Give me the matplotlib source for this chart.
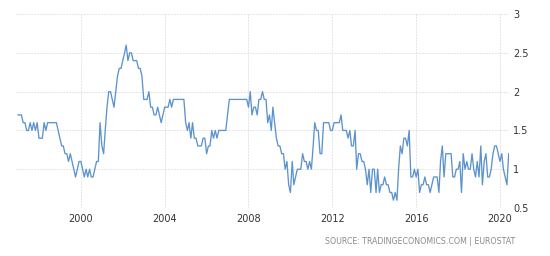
import matplotlib
matplotlib.use("Agg")
import matplotlib.pyplot as plt
import pandas as pd

# Monthly values, Jan 1997 .. Jun 2020
values_1997_2000 = [1.7, 1.7, 1.7, 1.6, 1.6, 1.5, 1.5, 1.6, 1.5, 1.6, 1.5, 1.6,
                    1.4, 1.4, 1.4, 1.6, 1.5, 1.6, 1.6, 1.6, 1.6, 1.6, 1.6, 1.5,
                    1.4, 1.3, 1.3, 1.2, 1.2, 1.1, 1.2, 1.1, 1.0, 0.9, 1.0, 1.1,
                    1.1, 1.0]
values_2000_2003 = [0.9, 1.0, 0.9, 1.0, 0.9, 0.9, 1.0, 1.1, 1.1, 1.6, 1.3, 1.2,
                    1.5, 1.8, 2.0, 2.0, 1.9, 1.8, 2.0, 2.2, 2.3, 2.3, 2.4, 2.5,
                    2.6, 2.4, 2.5, 2.5, 2.4, 2.4, 2.4, 2.3, 2.3, 2.2, 1.9, 1.9,
                    1.9, 2.0, 1.8, 1.8, 1.7, 1.7]
values_2003_2007 = [1.8, 1.7, 1.6, 1.7, 1.8, 1.8, 1.8, 1.9, 1.8, 1.9, 1.9, 1.9,
                    1.9, 1.9, 1.9, 1.9, 1.6, 1.5, 1.6, 1.4, 1.6, 1.4, 1.4, 1.3,
                    1.3, 1.3, 1.4, 1.4, 1.2, 1.3, 1.3, 1.5, 1.4, 1.5, 1.4, 1.5,
                    1.5, 1.5, 1.5, 1.5, 1.7]
values_2007_2010 = [1.9, 1.9, 1.9, 1.9, 1.9, 1.9, 1.9, 1.9, 1.9, 1.9, 1.9, 1.8,
                    2.0, 1.7, 1.8, 1.8, 1.7, 1.9, 1.9, 2.0, 1.9, 1.9, 1.6, 1.7,
                    1.5, 1.8, 1.6, 1.4, 1.3, 1.3, 1.2, 1.2, 1.0, 1.1, 0.8, 0.7,
                    1.1, 0.8]
values_2010_2013 = [0.9, 1.0, 1.0, 1.0, 1.2, 1.1, 1.1, 1.0, 1.1, 1.0, 1.3, 1.6,
                    1.5, 1.5, 1.2, 1.2, 1.6, 1.6, 1.6, 1.6, 1.5, 1.5, 1.6, 1.6,
                    1.6, 1.6, 1.7, 1.5, 1.5, 1.5, 1.4, 1.5, 1.3, 1.3, 1.5, 1.0,
                    1.2, 1.2, 1.1, 1.1, 1.0]
values_2013_2017 = [0.8, 1.0, 0.7, 1.0, 1.0, 0.7, 1.0, 0.7, 0.8, 0.8, 0.9, 0.8,
                    0.8, 0.7, 0.7, 0.6, 0.7, 0.6, 1.0, 1.3, 1.2, 1.4, 1.4, 1.3,
                    1.5, 0.9, 0.9, 1.0, 0.9, 1.0, 0.7, 0.8, 0.8, 0.9, 0.8, 0.8,
                    0.7, 0.8, 0.9, 0.9]
values_2017_2020 = [0.9, 0.7, 1.1, 1.3, 0.9, 1.2, 1.2, 1.2, 1.2, 0.9, 0.9, 1.0,
                    1.0, 1.1, 0.7, 1.2, 1.0, 1.1, 1.0, 1.0, 1.2, 1.0, 0.9, 1.1,
                    0.9, 1.3, 0.8, 1.1, 1.2, 0.9, 0.9, 1.0, 1.2, 1.3, 1.3, 1.2,
                    1.1, 1.2, 1.0, 0.9, 0.8, 1.2]

values = (values_1997_2000 + values_2000_2003 + values_2003_2007 + values_2007_2010
          + values_2010_2013 + values_2013_2017 + values_2017_2020)
dates = pd.date_range("1997-01-01", periods=len(values), freq="MS")

x_tick_years = [2000, 2004, 2008, 2012, 2016, 2020]
y_ticks = [0.5, 1, 1.5, 2, 2.5, 3]
y_tick_labels = ["0.5", "1", "1.5", "2", "2.5", "3"]
source_text = "SOURCE: TRADINGECONOMICS.COM | EUROSTAT"

fig = plt.figure(figsize=(5.5, 2.56), dpi=100)
ax = fig.add_axes([0.029, 0.1875, 0.896, 0.7575])

ax.plot(dates, values, color="#5d93cd", linewidth=0.95)

ax.set_ylim(0.5, 3)
ax.set_xlim(pd.Timestamp("1996-11-26"), dates[-1] + pd.Timedelta(days=1))
ax.set_yticks(y_ticks)
ax.set_yticklabels(y_tick_labels)
ax.set_xticks([pd.Timestamp(f"{y}-01-01") for y in x_tick_years])
ax.set_xticklabels([str(y) for y in x_tick_years])

ax.yaxis.tick_right()
ax.tick_params(axis="both", length=0, labelsize=7, colors="#333333")
ax.tick_params(axis="y", pad=3)
ax.tick_params(axis="x", pad=4)
for s in ax.spines.values():
    s.set_visible(False)
ax.grid(True, color="#e4e4e4", linestyle=(0, (2, 1)), linewidth=0.7)
ax.set_axisbelow(True)

fig.text(0.936, 0.058, source_text, ha="right", va="center", fontsize=5.7,
         color="#8a8a8a")

fig.savefig("out.png", dpi=100)
